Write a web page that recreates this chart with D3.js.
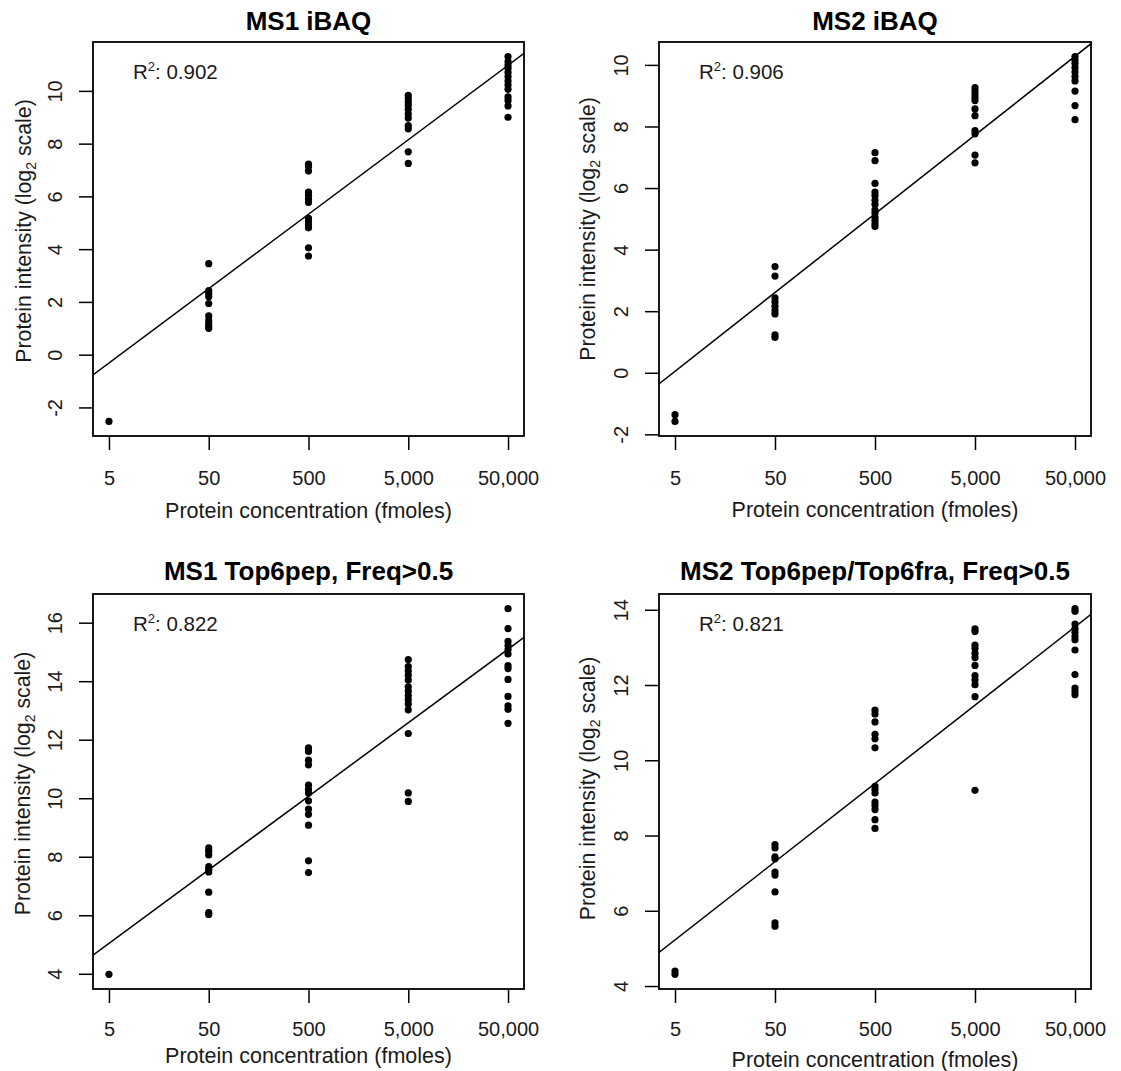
<!DOCTYPE html>
<html>
<head>
<meta charset="utf-8">
<script src="https://cdn.jsdelivr.net/npm/d3@7/dist/d3.min.js"></script>
<style>
  html, body { margin: 0; padding: 0; background: #fff; }
  svg { display: block; font-family: "Liberation Sans", Arial, Helvetica, sans-serif; }
</style>
</head>
<body>
<svg id="chart" width="1121" height="1071"></svg>
<script>
// ---------------- DATA ----------------
const concentrations = [5, 50, 500, 5000, 50000];
const xTickLabels = ["5", "50", "500", "5,000", "50,000"];

const panelTitles = ["MS1 iBAQ", "MS2 iBAQ", "MS1 Top6pep, Freq>0.5", "MS2 Top6pep/Top6fra, Freq>0.5"];
const r2Labels = ["0.902", "0.906", "0.822", "0.821"];

// log2 intensities per concentration (one inner array per concentration)
const ms1iBAQ = [
  [-2.53],
  [3.45, 2.43, 2.32, 2.2, 1.94, 1.47, 1.3, 1.17, 1.07, 1.0],
  [7.22, 7.13, 6.96, 6.16, 6.03, 5.9, 5.77, 5.17, 5.04, 4.92, 4.81, 4.05, 3.74],
  [9.83, 9.71, 9.58, 9.45, 9.3, 9.13, 8.97, 8.68, 8.56, 7.69, 7.25],
  [11.3, 11.11, 10.98, 10.86, 10.7, 10.54, 10.37, 10.22, 10.06, 9.77, 9.64, 9.43, 9.0]
];
const ms2iBAQ = [
  [-1.36, -1.58],
  [3.45, 3.14, 2.43, 2.3, 2.16, 2.02, 1.91, 1.23, 1.15],
  [7.15, 6.89, 6.15, 5.87, 5.76, 5.6, 5.47, 5.29, 5.19, 5.05, 4.95, 4.84, 4.75],
  [9.26, 9.15, 9.04, 8.93, 8.84, 8.57, 8.35, 7.87, 7.76, 7.07, 6.82],
  [10.27, 10.16, 10.05, 9.91, 9.77, 9.62, 9.48, 9.15, 8.68, 8.22]
];
const ms1Top6 = [
  [3.98],
  [8.3, 8.19, 8.06, 7.66, 7.57, 7.48, 6.79, 6.09, 6.03],
  [11.72, 11.6, 11.3, 11.14, 10.45, 10.3, 10.18, 9.91, 9.63, 9.45, 9.08, 7.86, 7.46],
  [14.74, 14.5, 14.35, 14.2, 14.04, 13.81, 13.66, 13.51, 13.37, 13.22, 13.02, 12.21, 10.18, 9.89],
  [16.48, 15.8, 15.36, 15.22, 15.08, 14.93, 14.53, 14.43, 14.06, 13.48, 13.16, 13.04, 12.56]
];
const ms2Top6 = [
  [4.4, 4.31],
  [7.76, 7.67, 7.43, 7.38, 7.03, 6.95, 6.5, 5.68, 5.59],
  [11.33, 11.23, 11.02, 10.69, 10.57, 10.33, 9.31, 9.22, 9.13, 8.89, 8.8, 8.69, 8.42, 8.19],
  [13.49, 13.42, 13.06, 12.97, 12.84, 12.73, 12.52, 12.25, 12.14, 12.01, 11.69, 9.2],
  [14.03, 13.96, 13.62, 13.5, 13.4, 13.29, 13.2, 12.93, 12.28, 11.92, 11.83, 11.74]
];

// fitted line: y = intercept + slope * log10(concentration)
const fitIntercepts = [-2.29, -1.74, 3.28, 3.77];
const fitSlopes = [2.822, 2.558, 2.514, 2.08];

const yTickValues = [
  [-2, 0, 2, 4, 6, 8, 10],
  [-2, 0, 2, 4, 6, 8, 10],
  [4, 6, 8, 10, 12, 14, 16],
  [4, 6, 8, 10, 12, 14]
];

const panelData = [ms1iBAQ, ms2iBAQ, ms1Top6, ms2Top6];

// ---------------- LAYOUT ----------------
const boxes = [
  {left: 93,  top: 42,  w: 431, h: 394, xTitleOff: 82, xLabOff: 49, titleOff: 12.5, yLabOff: 31, yTitleOff: 62, yTitleShift: -8},
  {left: 659, top: 42,  w: 432, h: 394, xTitleOff: 81, xLabOff: 49, titleOff: 12.5, yLabOff: 31, yTitleOff: 64, yTitleShift: -10},
  {left: 93,  top: 594, w: 431, h: 395, xTitleOff: 74, xLabOff: 47, titleOff: 14, yLabOff: 31, yTitleOff: 63, yTitleShift: -8},
  {left: 659, top: 594, w: 432, h: 395, xTitleOff: 78, xLabOff: 47, titleOff: 14, yLabOff: 31, yTitleOff: 64, yTitleShift: -3}
];

const svg = d3.select("#chart");
svg.append("rect").attr("width", 1121).attr("height", 1071).attr("fill", "#fff");

const textColor = "#1a1a1a";
const tickFont = 20;
const fontFam = '"Liberation Sans", Arial, sans-serif';

// R-style 4% axis extension
function extend(lo, hi) { const d = (hi - lo) * 0.04; return [lo - d, hi + d]; }

const lx = extend(Math.log10(concentrations[0]), Math.log10(concentrations[concentrations.length - 1]));
const xDomain = [Math.pow(10, lx[0]), Math.pow(10, lx[1])];

panelData.forEach((groups, i) => {
  const b = boxes[i];
  const g = svg.append("g").attr("transform", `translate(${b.left},${b.top})`);

  const all = groups.flat();
  const yDom = extend(d3.min(all), d3.max(all));

  const x = d3.scaleLog().domain(xDomain).range([0, b.w]);
  const y = d3.scaleLinear().domain(yDom).range([b.h, 0]);

  // clip
  const clipId = "clip" + i;
  g.append("clipPath").attr("id", clipId)
    .append("rect").attr("width", b.w).attr("height", b.h);

  // points
  const pts = [];
  groups.forEach((vals, j) => vals.forEach(v => pts.push({c: concentrations[j], v})));
  g.append("g").selectAll("circle").data(pts).join("circle")
    .attr("cx", d => x(d.c)).attr("cy", d => y(d.v)).attr("r", 3.6)
    .attr("fill", "#000");

  // regression line
  const line = d3.line().x(d => x(d)).y(d => y(fitIntercepts[i] + fitSlopes[i] * Math.log10(d)));
  g.append("path").attr("d", line(xDomain)).attr("fill", "none")
    .attr("stroke", "#000").attr("stroke-width", 1.5)
    .attr("clip-path", `url(#${clipId})`);

  // box
  g.append("rect").attr("width", b.w).attr("height", b.h)
    .attr("fill", "none").attr("stroke", "#000").attr("stroke-width", 1.8);

  // x axis
  const xAxis = d3.axisBottom(x).tickValues(concentrations)
    .tickFormat((d, k) => xTickLabels[k]).tickSize(14).tickSizeOuter(0);
  const gx = g.append("g").attr("transform", `translate(0,${b.h})`).call(xAxis);
  gx.select(".domain").remove();
  gx.selectAll(".tick line").attr("stroke", "#000").attr("stroke-width", 1.5);
  gx.selectAll(".tick text").attr("y", b.xLabOff).attr("dy", 0)
    .attr("font-size", tickFont).attr("fill", textColor).attr("font-family", fontFam);

  // y axis (hyphen-minus like R)
  const yAxis = d3.axisLeft(y).tickValues(yTickValues[i])
    .tickFormat(d => String(d)).tickSize(14).tickSizeOuter(0);
  const gy = g.append("g").call(yAxis);
  gy.select(".domain").remove();
  gy.selectAll(".tick line").attr("stroke", "#000").attr("stroke-width", 1.5);
  gy.selectAll(".tick text")
    .attr("x", 0).attr("dy", 0).attr("y", 0)
    .attr("text-anchor", "middle")
    .attr("transform", `translate(${-b.yLabOff},0) rotate(-90)`)
    .attr("font-size", tickFont).attr("fill", textColor).attr("font-family", fontFam);

  // x title
  g.append("text").attr("x", b.w / 2).attr("y", b.h + b.xTitleOff)
    .attr("text-anchor", "middle").attr("font-size", 21.5).attr("fill", textColor)
    .text("Protein concentration (fmoles)");

  // y title with subscript
  const yt = g.append("text")
    .attr("transform", `translate(${-b.yTitleOff},${b.h / 2 + b.yTitleShift}) rotate(-90)`)
    .attr("text-anchor", "middle").attr("font-size", 21.3).attr("fill", textColor);
  yt.append("tspan").text("Protein intensity (log");
  yt.append("tspan").attr("dy", 5).attr("font-size", 14).text("2");
  yt.append("tspan").attr("dy", -5).text(" scale)");

  // panel title
  g.append("text").attr("x", b.w / 2).attr("y", -b.titleOff)
    .attr("text-anchor", "middle").attr("font-size", 26).attr("font-weight", "bold")
    .attr("fill", "#000").text(panelTitles[i]);

  // R^2 label
  const rt = g.append("text").attr("x", 40).attr("y", 37)
    .attr("font-size", 20.5).attr("fill", textColor);
  rt.append("tspan").text("R");
  rt.append("tspan").attr("dy", -8).attr("font-size", 13).text("2");
  rt.append("tspan").attr("dy", 8).text(": " + r2Labels[i]);
});
</script>
</body>
</html>
